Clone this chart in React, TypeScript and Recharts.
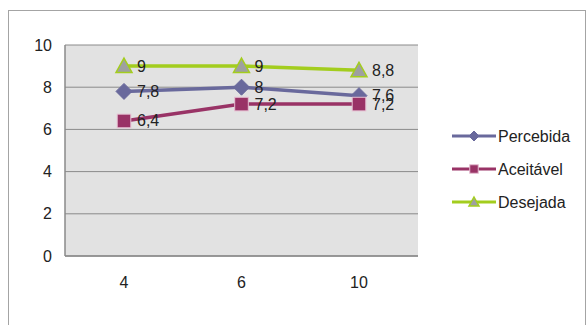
import React from "react";
import { CartesianGrid, Line, LineChart, XAxis, YAxis } from "recharts";

const CATEGORIES = ["4", "6", "10"];
const PERCEBIDA = [7.8, 8, 7.6];
const ACEITAVEL = [6.4, 7.2, 7.2];
const DESEJADA = [9, 9, 8.8];
const Y_TICKS = [0, 2, 4, 6, 8, 10];

const DATA = CATEGORIES.map((c, i) => ({
  cat: c,
  percebida: PERCEBIDA[i],
  aceitavel: ACEITAVEL[i],
  desejada: DESEJADA[i],
}));

const FONT = "'Liberation Sans', Arial, sans-serif";
const BLUE = "#69699c";
const WINE = "#993366";
const LIME = "#a3cd1e";
const AXIS = "#8a8a8a";
const PLOT_BG = "#e2e2e2";
const TEXT = "#222";

const SERIES = [
  { key: "percebida", name: "Percebida", color: BLUE, shape: "diamond" },
  { key: "aceitavel", name: "Aceitável", color: WINE, shape: "square" },
  { key: "desejada", name: "Desejada", color: LIME, shape: "triangle" },
];

function Marker({ shape, x, y, s }: { shape: string; x: number; y: number; s: number }) {
  if (shape === "diamond") {
    return (
      <polygon
        points={`${x},${y - s} ${x + s},${y} ${x},${y + s} ${x - s},${y}`}
        fill={BLUE}
        stroke={BLUE}
      />
    );
  }
  if (shape === "square") {
    const h = s * 0.85;
    return (
      <rect x={x - h} y={y - h} width={h * 2} height={h * 2} fill={WINE} stroke="#e6bfd2" strokeWidth={1} />
    );
  }
  return (
    <polygon
      points={`${x},${y - s} ${x + s},${y + s * 0.8} ${x - s},${y + s * 0.8}`}
      fill="#9ea0a0"
      stroke={LIME}
      strokeWidth={1.5}
    />
  );
}

function dotFor(shape: string) {
  return (props: any) => (
    <g key={`${shape}-${props.index}`}>
      <Marker shape={shape} x={props.cx} y={props.cy} s={8} />
    </g>
  );
}

function valueLabel(props: any) {
  const { x, y, value, index } = props;
  return (
    <text
      key={`lbl-${index}-${value}`}
      x={x + 13}
      y={y + 5.5}
      fontSize={16}
      fontFamily={FONT}
      fill={TEXT}
    >
      {String(value).replace(".", ",")}
    </text>
  );
}

// legend sits to the right of the plot, outside the chart's layout
function LegendBox() {
  return (
    <svg width={140} height={100} style={{ position: "absolute", left: 450, top: 125, overflow: "visible" }}>
      {SERIES.map((s, i) => {
        const y = 11 + i * 33;
        return (
          <g key={s.key}>
            <line x1={2} x2={46} y1={y} y2={y} stroke={s.color} strokeWidth={3} />
            <Marker shape={s.shape} x={24} y={y} s={5} />
            <text x={48} y={y + 6} fontSize={16} fontFamily={FONT} fill={TEXT}>
              {s.name}
            </text>
          </g>
        );
      })}
    </svg>
  );
}

export default function App() {
  return (
    <div style={{ position: "relative", width: 588, height: 325, overflow: "hidden", background: "#fff" }}>
      <style>{`body{margin:0}`}</style>
      <div
        style={{
          position: "absolute",
          left: 8,
          top: 10,
          width: 578,
          height: 340,
          border: "1px solid #a4a4a4",
          boxSizing: "border-box",
        }}
      />
      <div style={{ position: "absolute", left: 0, top: 0 }}>
        <LineChart
          width={588}
          height={325}
          data={DATA}
          margin={{ top: 45, right: 170, left: 25, bottom: 39 }}
        >
          <CartesianGrid vertical={false} stroke={AXIS} fill={PLOT_BG} fillOpacity={1} />
          <XAxis
            dataKey="cat"
            height={30}
            padding={{ left: 59, right: 59 }}
            tickLine={false}
            tickSize={0}
            tickMargin={21}
            axisLine={{ stroke: AXIS, strokeWidth: 1.5 }}
            tick={{ fill: TEXT, fontSize: 16, fontFamily: FONT }}
          />
          <YAxis
            domain={[0, 10]}
            ticks={Y_TICKS}
            interval={0}
            width={40}
            tickLine={false}
            tickSize={0}
            tickMargin={13}
            axisLine={{ stroke: AXIS, strokeWidth: 1.5 }}
            tick={{ fill: TEXT, fontSize: 16, fontFamily: FONT }}
          />
          <YAxis
            yAxisId="edge"
            orientation="right"
            domain={[0, 10]}
            width={0}
            tick={false}
            tickLine={false}
            axisLine={{ stroke: AXIS, strokeWidth: 1.5 }}
          />
          {SERIES.map((s) => (
            <Line
              key={s.key}
              type="linear"
              dataKey={s.key}
              name={s.name}
              stroke={s.color}
              strokeWidth={3.5}
              dot={dotFor(s.shape)}
              activeDot={false}
              label={valueLabel}
              isAnimationActive={false}
            />
          ))}
        </LineChart>
      </div>
      <LegendBox />
    </div>
  );
}
